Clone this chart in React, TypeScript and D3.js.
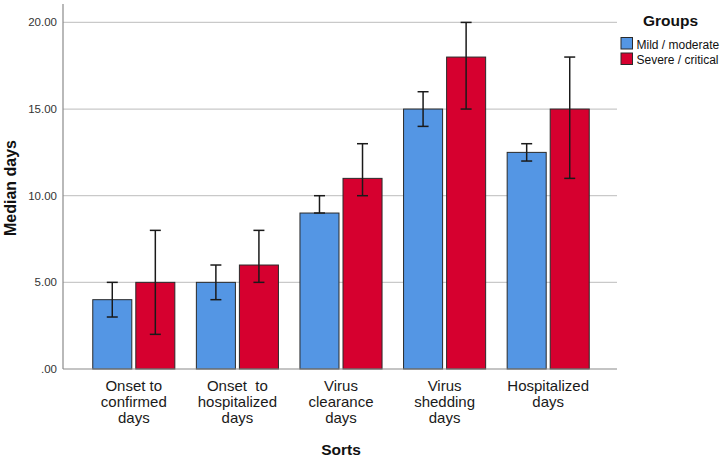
import React from "react";
import * as d3 from "d3";

const categories: string[][] = [
  ["Onset to", "confirmed", "days"],
  ["Onset  to", "hospitalized", "days"],
  ["Virus", "clearance", "days"],
  ["Virus", "shedding", "days"],
  ["Hospitalized", "days"],
];
const groups = ["Mild / moderate", "Severe / critical"];
const mildMedian = [4, 5, 9, 15, 12.5];
const mildLow = [3, 4, 9, 14, 12];
const mildHigh = [5, 6, 10, 16, 13];
const severeMedian = [5, 6, 11, 18, 15];
const severeLow = [2, 5, 10, 15, 11];
const severeHigh = [8, 8, 13, 20, 18];
const yTicks = [0, 5, 10, 15, 20];

const colors = ["#5496e4", "#d6002f"];
const font = "'Liberation Sans', Arial, sans-serif";

export default function App() {
  const W = 726, H = 460;
  const y = d3.scaleLinear().domain([0, 20]).range([369, 22.4]);
  const x0 = d3.scaleBand<number>().domain(d3.range(categories.length)).range([82, 600]).padding(0);
  const x1 = d3.scaleBand<number>().domain([0, 1]).range([0, x0.bandwidth()]).paddingInner(0.093).paddingOuter(0.25);
  const series = [
    { med: mildMedian, lo: mildLow, hi: mildHigh },
    { med: severeMedian, lo: severeLow, hi: severeHigh },
  ];
  const axisLeft = 63, axisRight = 617, axisTop = 4;
  const fmt = (v: number) => (v === 0 ? ".00" : v.toFixed(2));
  const cap = 5.5;

  return (
    <svg width={W} height={H} style={{ position: "absolute", left: 0, top: 0, background: "#fff" }} fontFamily={font}>
      {yTicks.filter((t) => t > 0).map((t) => (
        <line key={"g" + t} x1={axisLeft} x2={axisRight} y1={y(t)} y2={y(t)} stroke="#c9c9c9" strokeWidth={1.2} />
      ))}
      {yTicks.map((t) => (
        <text key={"t" + t} x={57} y={y(t) + 4} textAnchor="end" fontSize={11.5} fill="#333">
          {fmt(t)}
        </text>
      ))}
      {series.map((s, si) =>
        s.med.map((v, i) => {
          const bx = (x0(i) as number) + (x1(si) as number);
          return (
            <rect key={`b${si}-${i}`} x={bx} y={y(v)} width={x1.bandwidth()} height={y(0) - y(v)}
              fill={colors[si]} stroke="#2a2a2a" strokeWidth={1} />
          );
        })
      )}
      {series.map((s, si) =>
        s.med.map((_, i) => {
          const cx = (x0(i) as number) + (x1(si) as number) + x1.bandwidth() / 2;
          return (
            <g key={`e${si}-${i}`} stroke="#1a1a1a" strokeWidth={1.5}>
              <line x1={cx} x2={cx} y1={y(s.lo[i])} y2={y(s.hi[i])} />
              <line x1={cx - cap} x2={cx + cap} y1={y(s.hi[i])} y2={y(s.hi[i])} />
              <line x1={cx - cap} x2={cx + cap} y1={y(s.lo[i])} y2={y(s.lo[i])} />
            </g>
          );
        })
      )}
      <line x1={axisLeft} x2={axisLeft} y1={axisTop} y2={y(0)} stroke="#8a8a8a" strokeWidth={1.2} />
      <line x1={axisLeft} x2={axisRight} y1={y(0)} y2={y(0)} stroke="#8a8a8a" strokeWidth={1.2} />
      {categories.map((lines, i) => {
        const cx = (x0(i) as number) + x0.bandwidth() / 2;
        return (
          <text key={"x" + i} textAnchor="middle" fontSize={15} fill="#1a1a1a" style={{ whiteSpace: "pre" }}>
            {lines.map((l, li) => (
              <tspan key={li} x={cx} y={391 + li * 15.75}>{l}</tspan>
            ))}
          </text>
        );
      })}
      <text x={341} y={455} textAnchor="middle" fontSize={15.5} fontWeight="bold" fill="#111">Sorts</text>
      <text transform={`translate(16,188) rotate(-90)`} textAnchor="middle" fontSize={16} fontWeight="bold" fill="#111">
        Median days
      </text>
      <text x={643} y={25.5} textAnchor="start" fontSize={15.5} fontWeight="bold" fill="#111">Groups</text>
      {groups.map((g, gi) => (
        <g key={"l" + gi}>
          <rect x={621} y={37.5 + gi * 15.5} width={11.5} height={11.5} fill={colors[gi]} stroke="#2a2a2a" strokeWidth={1} />
          <text x={636.5} y={48.5 + gi * 15.5} fontSize={12} fill="#111">{g}</text>
        </g>
      ))}
    </svg>
  );
}
